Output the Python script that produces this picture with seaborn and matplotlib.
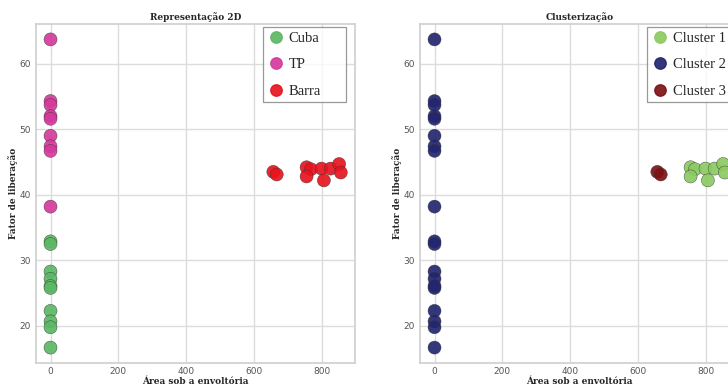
import matplotlib
matplotlib.use("Agg")
import matplotlib.pyplot as plt
from matplotlib.lines import Line2D
import seaborn as sns
import pandas as pd

# Área sob a envoltória (x) e fator de liberação (y) por grupo
cuba_x = [0, 0, 0, 0, 0, 0, 0, 0, 0, 0]
cuba_y = [32.9, 32.5, 28.3, 27.2, 26.1, 25.8, 22.3, 20.7, 19.8, 16.7]
tp_x = [0, 0, 0, 0, 0, 0, 0, 0, 0]
tp_y = [63.7, 54.3, 53.7, 52.0, 51.6, 49.0, 47.4, 46.7, 38.2]
barra_x = [657, 667, 755, 768, 755, 799, 806, 826, 851, 856]
barra_y = [43.5, 43.1, 44.2, 43.9, 42.8, 44.0, 42.2, 44.0, 44.7, 43.4]

groups = ["Cuba", "TP", "Barra"]
group_colors = ["#5cb865", "#d63a9c", "#e8141f"]
clusters = ["Cluster 1", "Cluster 2", "Cluster 3"]
cluster_colors = ["#8cca62", "#23266f", "#7e1215"]
# cluster atribuído a cada ponto de Barra (os de Cuba e TP ficam no Cluster 2)
barra_cluster = ["Cluster 3", "Cluster 3"] + ["Cluster 1"] * 8

df = pd.DataFrame({
    "x": cuba_x + tp_x + barra_x,
    "y": cuba_y + tp_y + barra_y,
    "grupo": ["Cuba"] * len(cuba_x) + ["TP"] * len(tp_x) + ["Barra"] * len(barra_x),
    "cluster": ["Cluster 2"] * (len(cuba_x) + len(tp_x)) + barra_cluster,
})

sns.set_theme(style="whitegrid")
plt.rcParams["axes.edgecolor"] = "#d0d0d0"
plt.rcParams["grid.color"] = "#dcdcdc"

fig = plt.figure(figsize=(7.28, 3.87), dpi=100)
W, H = 728, 387
ax1 = fig.add_axes([36 / W, 24 / H, 319 / W, 339 / H])
ax2 = fig.add_axes([420 / W, 24 / H, 319 / W, 339 / H])

def draw(ax, hue, order, colors, title):
    pal = dict(zip(order, colors))
    sns.scatterplot(data=df, x="x", y="y", hue=hue, hue_order=order,
                    palette=pal, s=88, edgecolor="#333333", linewidth=0.3,
                    alpha=0.92, legend=False, ax=ax, zorder=3)
    ax.set_title(title, fontsize=6.5, fontweight="bold", family="DejaVu Serif", pad=3)
    ax.set_xlabel("Área sob a envoltória", fontsize=6.5, fontweight="bold",
                  family="DejaVu Serif", labelpad=0.5)
    ax.set_ylabel("Fator de liberação", fontsize=6.5, fontweight="bold",
                  family="DejaVu Serif", labelpad=0.5)
    ax.set_xticks([0, 200, 400, 600, 800])
    ax.set_yticks([20, 30, 40, 50, 60])
    ax.tick_params(labelsize=6.5, labelcolor="#555555", length=0, pad=4)
    ax.tick_params(axis="x", pad=3)
    ax.set_xlim(-42.8, 897.8)
    ax.set_ylim(14.35, 66.05)
    handles = [Line2D([], [], marker="o", linestyle="", markersize=8.2,
                      markerfacecolor=c, markeredgecolor=c, alpha=0.92)
               for c in colors]
    leg = ax.legend(handles, order, loc="upper left", mode="expand",
                    bbox_to_anchor=(0.712, 0.0, 0.26, 0.991),
                    labelspacing=0.92, handletextpad=0.35, borderpad=0.3,
                    handlelength=1.1, borderaxespad=0.0,
                    fancybox=False, frameon=True,
                    prop={"family": "Liberation Serif", "size": 10.5})
    leg.get_frame().set_edgecolor("#808080")
    leg.get_frame().set_linewidth(0.9)

draw(ax1, "grupo", groups, group_colors, "Representação 2D")
draw(ax2, "cluster", clusters, cluster_colors, "Clusterização")

fig.savefig("out.png", dpi=100)
